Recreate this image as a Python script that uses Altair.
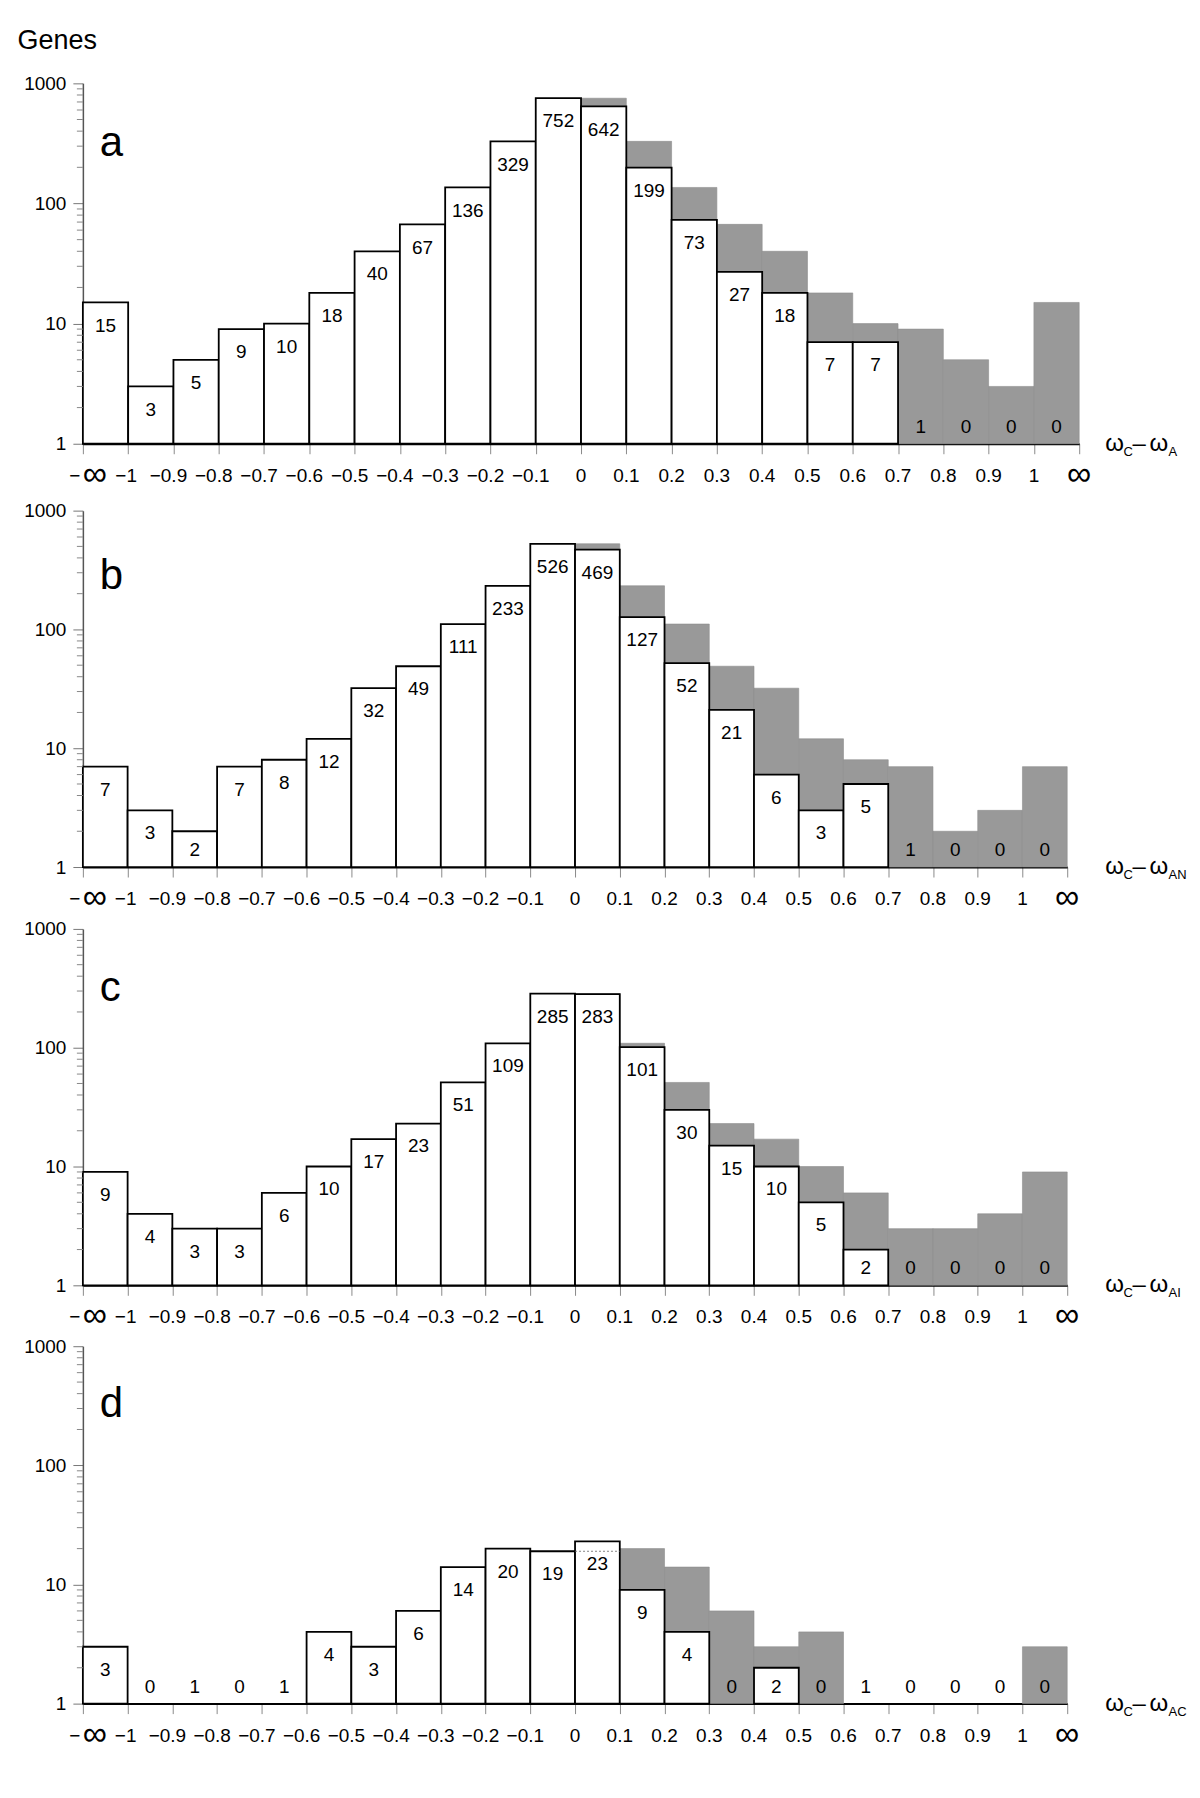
import altair as alt
import pandas as pd

FONT = "Liberation Sans"

EDGE_LABELS = ["−∞", "−1", "−0.9", "−0.8", "−0.7", "−0.6", "−0.5", "−0.4", "−0.3", "−0.2", "−0.1",
               "0", "0.1", "0.2", "0.3", "0.4", "0.5", "0.6", "0.7", "0.8", "0.9", "1", "∞"]

COUNTS_A = [15, 3, 5, 9, 10, 18, 40, 67, 136, 329, 752, 642, 199, 73, 27, 18, 7, 7, 1, 0, 0, 0]
COUNTS_B = [7, 3, 2, 7, 8, 12, 32, 49, 111, 233, 526, 469, 127, 52, 21, 6, 3, 5, 1, 0, 0, 0]
COUNTS_C = [9, 4, 3, 3, 6, 10, 17, 23, 51, 109, 285, 283, 101, 30, 15, 10, 5, 2, 0, 0, 0, 0]
COUNTS_D = [3, 0, 1, 0, 1, 4, 3, 6, 14, 20, 19, 23, 9, 4, 0, 2, 0, 1, 0, 0, 0, 0]

# grey (mirrored) bars on the positive side, bins 0–0.1 ... 1–∞
GREY_A = [752, 329, 136, 67, 40, 18, 10, 9, 5, 3, 15]
GREY_B = [526, 233, 111, 49, 32, 12, 8, 7, 2, 3, 7]
GREY_C = [285, 109, 51, 23, 17, 10, 6, 3, 3, 4, 9]
GREY_D = [19, 20, 14, 6, 3, 4, 1, 0, 1, 0, 3]

Y_TICKS = [1, 10, 100, 1000]
MINOR_TICKS = [2, 3, 4, 5, 6, 7, 8, 9, 20, 30, 40, 50, 60, 70, 80, 90,
               200, 300, 400, 500, 600, 700, 800, 900]

NB = len(COUNTS_A)

XS = alt.Scale(domain=[0, NB], nice=False, zero=False)

XAXIS = alt.Axis(values=list(range(NB + 1)), labels=False, ticks=True, title=None,
                 tickSize=10, tickColor="#8a8a8a", tickWidth=1,
                 domainColor="black", domainWidth=2, grid=False)
YAXIS = alt.Axis(values=Y_TICKS, format="d", title=None, tickSize=10, tickColor="#777777",
                 tickWidth=1, labelPadding=7, domainColor="#555555", domainWidth=1.5,
                 grid=False, labelFontSize=19, labelColor="black", labelFont=FONT)


def X(field):
    return alt.X(field, scale=XS, axis=XAXIS, title=None)


def panel(counts, grey, letter, sub, width, height, top_gap, letter_y):
    ys = alt.Scale(type="log", domain=[1, 1000], nice=False, range=[height, top_gap])

    def Y(field):
        return alt.Y(field, scale=ys, axis=YAXIS, title=None)

    rows = []
    for i, c in enumerate(counts):
        g = grey[i - 11] if i >= 11 else None
        rows.append({"lo": i, "hi": i + 1, "mid": i + 0.5, "white": c,
                     "grey": g, "base": 1})
    df = pd.DataFrame(rows)
    base = alt.Chart(df)

    grey_bars = base.transform_filter("datum.grey > 1").mark_rect(
        fill="#999999", stroke="#8d8d8d", strokeWidth=0.6
    ).encode(x=X("lo:Q"), x2="hi:Q", y=Y("grey:Q"), y2="base:Q")

    white_bars = base.transform_filter("datum.white > 1").mark_rect(
        fill="white", stroke="black", strokeWidth=1.8
    ).encode(x=X("lo:Q"), x2="hi:Q", y=Y("white:Q"), y2="base:Q")

    dotted = base.transform_filter(
        "datum.grey != null && datum.grey > 1 && datum.grey < datum.white"
    ).mark_rule(strokeDash=[2, 2], color="#666666", strokeWidth=0.8).encode(
        x=X("lo:Q"), x2="hi:Q", y=Y("grey:Q"))

    labels = base.transform_calculate(
        labelpos="max(datum.white / 1.56, 1.39)"
    ).mark_text(fontSize=19, font=FONT, color="black", baseline="middle").encode(
        x=X("mid:Q"), y=Y("labelpos:Q"), text="white:Q")

    minor = alt.Chart(pd.DataFrame({"v": MINOR_TICKS})).mark_rule(
        color="#888888", strokeWidth=1
    ).encode(y=Y("v:Q"), x=alt.value(-6), x2=alt.value(0))

    edf = pd.DataFrame({"edge": list(range(NB + 1)), "lab": EDGE_LABELS})
    lab_y = height + 32

    def edge_text(flt, dx, fs, txt=None, dy=0):
        enc = dict(x=X("edge:Q"), y=alt.value(lab_y))
        enc["text"] = alt.value(txt) if txt is not None else alt.Text("lab:N")
        return alt.Chart(edf).transform_filter(flt).mark_text(
            fontSize=fs, font=FONT, color="black", baseline="middle", dx=dx, dy=dy
        ).encode(**enc)

    neg_labels = edge_text("datum.edge >= 2 && datum.edge <= 10", -5, 19)
    neg1_label = edge_text("datum.edge == 1", -2, 19)
    pos_labels = edge_text("datum.edge >= 11 && datum.edge <= 21", 0, 19)
    inf_right = edge_text("datum.edge == 22", 0, 34, "∞", -1)
    inf_left = edge_text("datum.edge == 0", 12, 34, "∞", -1)
    minus_left = edge_text("datum.edge == 0", -8, 19, "−")

    one = alt.Data(values=[{}])
    letter_mark = alt.Chart(one).mark_text(
        text=letter, fontSize=42, font=FONT, align="left", baseline="alphabetic", color="black"
    ).encode(x=alt.value(17), y=alt.value(top_gap + letter_y))

    x0 = 1024
    main_y = height + 7
    sub_y = height + 12
    title_parts = [
        ("ω", x0, main_y, 24),
        ("C", x0 + 18.5, sub_y, 13),
        ("–", x0 + 27.5, main_y, 24),
        ("ω", x0 + 44.5, main_y, 24),
        (sub, x0 + 63.5, sub_y, 13),
    ]
    title_marks = [
        alt.Chart(one).mark_text(text=t, fontSize=fs, font=FONT, align="left",
                                 baseline="alphabetic", color="black").encode(
            x=alt.value(tx), y=alt.value(ty))
        for (t, tx, ty, fs) in title_parts
    ]

    layers = [grey_bars, white_bars, dotted, labels, minor, neg_labels, neg1_label,
              pos_labels, inf_right, inf_left, minus_left, letter_mark] + title_marks
    if letter == "a":
        genes = alt.Chart(one).mark_text(
            text="Genes", fontSize=27, font=FONT, align="left", baseline="alphabetic",
            color="black"
        ).encode(x=alt.value(-65.5), y=alt.value(-34))
        layers.append(genes)
    return alt.layer(*layers).properties(width=width, height=height)


pa = panel(COUNTS_A, GREY_A, "a", "A", 998, 361, 0, 73)
pb = panel(COUNTS_B, GREY_B, "b", "AN", 986, 363, 6, 79)
pc = panel(COUNTS_C, GREY_C, "c", "AI", 986, 358, 1, 72)
pd_ = panel(COUNTS_D, GREY_D, "d", "AC", 986, 358, 0, 71)

chart = alt.vconcat(pa, pb, pc, pd_, spacing=61, bounds="flush").properties(
    padding={"left": 9, "top": 18, "right": 5, "bottom": 5}
).configure(font=FONT).configure_view(stroke=None)

chart.save("out.html", embed_options={"renderer": "svg", "actions": False})
